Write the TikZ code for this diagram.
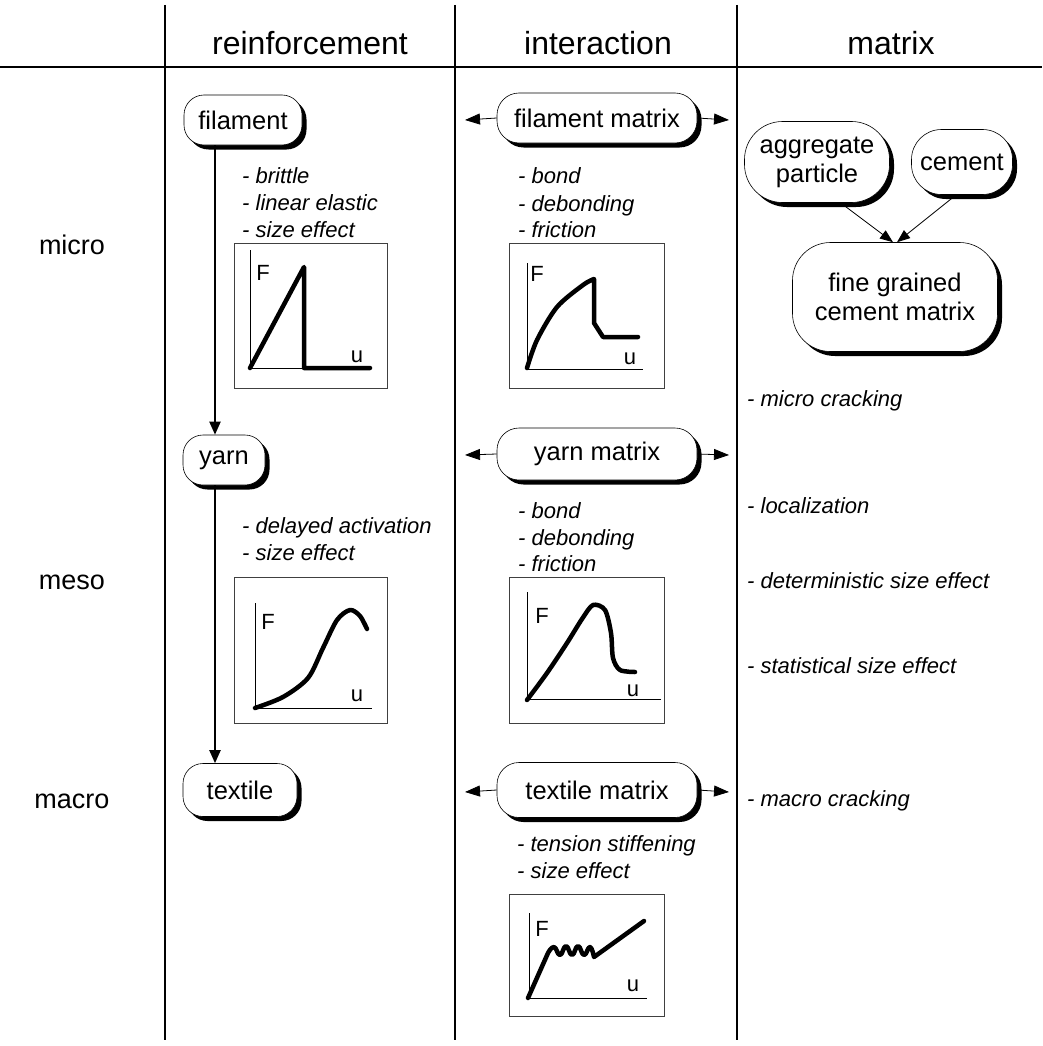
\documentclass[tikz,border=0pt]{standalone}
\usepackage{fontspec}
\setmainfont{Liberation Sans}
\usetikzlibrary{shadows,arrows.meta}
\begin{document}
\begin{tikzpicture}[x=1pt,y=-1pt,
  nd/.style={draw=black, line width=0.6pt, fill=white, inner sep=0pt, align=center,
    font=\fontsize{25.5}{29}\selectfont,
    drop shadow={shadow xshift=4.5pt,shadow yshift=-4.5pt,opacity=1,fill=black}},
  hdr/.style={font=\fontsize{32}{36}\selectfont, anchor=base, inner sep=0pt},
  row/.style={font=\fontsize{27}{31}\selectfont, anchor=base, inner sep=0pt},
  note/.style={font=\fontsize{22}{27}\selectfont\itshape, anchor=base west, inner sep=0pt},
  gbox/.style={draw=black!75, line width=0.8pt},
  axis/.style={draw=black, line width=0.8pt},
  crv/.style={draw=black, line width=4.5pt, line cap=round, line join=round},
  glab/.style={font=\fontsize{22}{24}\selectfont, inner sep=0pt},
  varr/.style={draw=black, line width=2pt, -{Triangle[length=13pt,width=11pt]}},
  harr/.style={draw=black, line width=0.8pt, -{Triangle[length=15pt,width=11pt]}},
  marr/.style={draw=black, line width=0.8pt, -{Triangle[length=13pt,width=10pt]}}
]
\useasboundingbox (0,0) rectangle (1042,1046);

% grid lines
\draw[line width=1.2pt] (165,5) -- (165,1040);
\draw[line width=1.2pt] (455,5) -- (455,1040);
\draw[line width=1.2pt] (737,5) -- (737,1040);
\draw[line width=1.8pt] (0,67) -- (1042,67);

% headers
\node[hdr] (h1) at (310,55) {reinforcement};
\node[hdr] (h2) at (598,55) {interaction};
\node[hdr] (h3) at (891,55) {matrix};

% row labels
\node[row] (r1) at (72,254) {micro};
\node[row] (r2) at (72,589) {meso};
\node[row] (r3) at (72,808) {macro};

% reinforcement nodes
\node[nd, rounded corners=20pt, minimum width=118pt, minimum height=50pt] (fil) at (243,120) {filament};
\node[nd, rounded corners=20pt, minimum width=82pt, minimum height=50pt] (yarn) at (224,460) {yarn};
\node[nd, rounded corners=20pt, minimum width=114pt, minimum height=53pt] (tex) at (240,790) {textile};

\coordinate (vx) at (215,0);
\draw[varr] (vx |- fil.south) -- (vx |- yarn.north);
\draw[varr] (vx |- yarn.south) -- (vx |- tex.north);

% interaction nodes
\node[nd, rounded corners=22pt, minimum width=200pt, minimum height=50pt] (fm) at (597,118) {filament matrix};
\node[nd, rounded corners=22pt, minimum width=200pt, minimum height=52pt] (ym) at (597,454) {yarn matrix};
\node[nd, rounded corners=22pt, minimum width=200pt, minimum height=55pt] (tm) at (597,790) {textile matrix};

\coordinate (fmL) at (465,120); \coordinate (fmR) at (729,120);
\coordinate (ymL) at (465,455); \coordinate (ymR) at (729,455);
\coordinate (tmL) at (465,792); \coordinate (tmR) at (729,792);
\draw[harr] (fm.west) -- (fmL);
\draw[harr] (fm.east) -- (fmR);
\draw[harr] (ym.west) -- (ymL);
\draw[harr] (ym.east) -- (ymR);
\draw[harr] (tm.west) -- (tmL);
\draw[harr] (tm.east) -- (tmR);

% matrix nodes
\node[nd, rounded corners=38pt, minimum width=145pt, minimum height=81pt] (agg) at (817,162) {aggregate\\particle};
\node[nd, rounded corners=30pt, minimum width=101pt, minimum height=65pt] (cem) at (962,162) {cement};
\node[nd, rounded corners=38pt, minimum width=205pt, minimum height=109pt] (fine) at (895,297) {fine grained\\cement matrix};
\draw[marr] (agg.-60) -- ([xshift=-2pt]fine.north);
\draw[marr] (cem.-100) -- ([xshift=2pt]fine.north);

% notes
\node[note] (n1) at (242,183) {- brittle};
\node[note] (n2) at (242,210) {- linear elastic};
\node[note] (n3) at (242,237) {- size effect};
\node[note] (n4) at (518,183) {- bond};
\node[note] (n5) at (518,211) {- debonding};
\node[note] (n6) at (518,237) {- friction};
\node[note] (n7) at (242,533) {- delayed activation};
\node[note] (n8) at (242,560) {- size effect};
\node[note] (n9) at (518,518) {- bond};
\node[note] (n10) at (518,545) {- debonding};
\node[note] (n11) at (518,571) {- friction};
\node[note] (n12) at (517,851) {- tension stiffening};
\node[note] (n13) at (517,878) {- size effect};
\node[note] (n14) at (747,406) {- micro cracking};
\node[note] (n15) at (747,513) {- localization};
\node[note] (n16) at (747,588) {- deterministic size effect};
\node[note] (n17) at (747,673) {- statistical size effect};
\node[note] (n18) at (747,806) {- macro cracking};

% graph 1: filament
\draw[gbox] (234,243) rectangle (387,388);
\draw[axis] (250,250) -- (250,368) -- (368,368);
\draw[crv] (250,368) -- (304,267) -- (304,368) -- (370,368);
\node[glab] (g1F) at (263,273) {F};
\node[glab] (g1u) at (357,357) {u};

% graph 2: filament matrix
\draw[gbox] (509,243) rectangle (664,388);
\draw[axis] (527,263) -- (527,369) -- (643,369);
\draw[crv] plot[smooth] coordinates {(527,368) (537,340) (557,307) (583,285) (594,279)} -- (594,323) -- (603,337) -- (638,337);
\node[glab] (g2F) at (537,274) {F};
\node[glab] (g2u) at (630,359) {u};

% graph 3: yarn
\draw[gbox] (234,577) rectangle (387,723);
\draw[axis] (255,603) -- (255,708) -- (372,708);
\draw[crv] plot[smooth] coordinates {(255,708) (283,697) (308,678) (323,648) (337,620) (350,610) (360,616) (367,629)};
\node[glab] (g3F) at (268,622) {F};
\node[glab] (g3u) at (357,696) {u};

% graph 4: yarn matrix
\draw[gbox] (509,577) rectangle (664,723);
\draw[axis] (527,592) -- (527,699) -- (661,699);
\draw[crv] plot[smooth] coordinates {(527,700) (547,673) (567,643) (582,619) (593,605) (605,610) (611,633) (613,658) (620,670) (635,672)};
\node[glab] (g4F) at (542,616) {F};
\node[glab] (g4u) at (633,691) {u};

% graph 5: textile matrix
\draw[gbox] (509,894) rectangle (664,1016);
\draw[axis] (529,913) -- (529,998) -- (647,998);
\draw[crv] (528,998) -- (548,953) plot[smooth, tension=0.8] coordinates {(548,953) (554,947) (560,955) (566,946) (572,955) (578,946) (584,955) (590,947) (594,957)} -- (644,921);
\node[glab] (g5F) at (542,929) {F};
\node[glab] (g5u) at (633,986) {u};
\end{tikzpicture}
\end{document}
